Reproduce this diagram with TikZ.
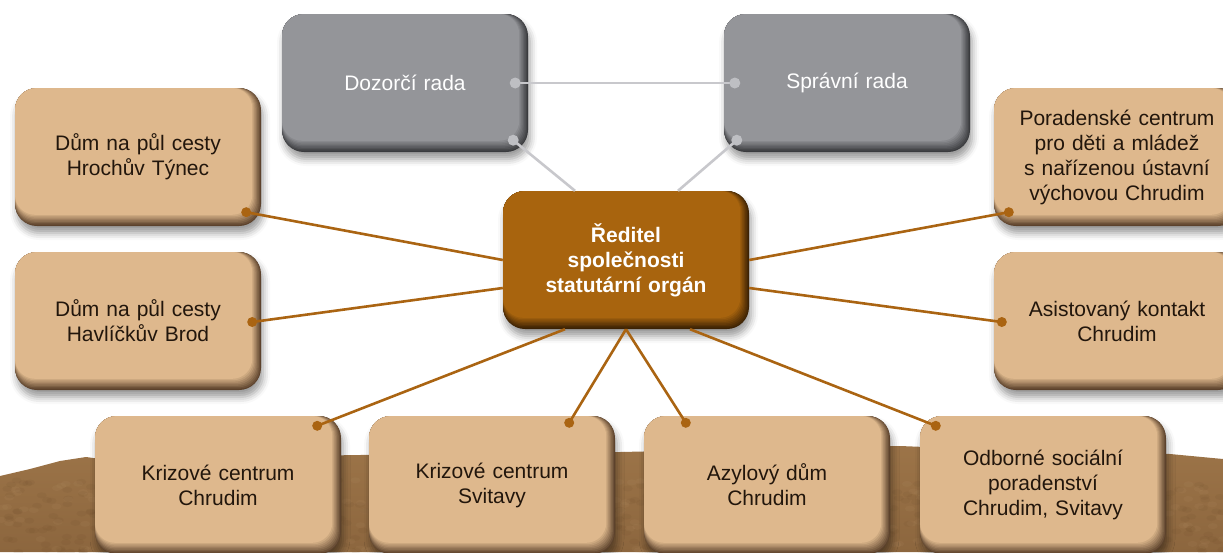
\documentclass[tikz,border=0pt]{standalone}
\usepackage{fontspec}
\setmainfont{Liberation Sans}
\usetikzlibrary{shadows.blur}
\definecolor{tanbase}{RGB}{222,184,141}
\definecolor{tanedge}{RGB}{92,66,44}
\definecolor{tantext}{RGB}{34,22,12}
\definecolor{graybase}{RGB}{148,149,153}
\definecolor{grayedge}{RGB}{58,59,62}
\definecolor{brownbase}{RGB}{168,100,14}
\definecolor{brownedge}{RGB}{60,34,4}
\definecolor{linebrown}{RGB}{170,100,18}
\definecolor{linegray}{RGB}{200,200,204}
\definecolor{dotgray}{RGB}{190,191,195}
\definecolor{sandtop}{RGB}{156,116,72}
\definecolor{sandbot}{RGB}{140,102,62}
\definecolor{sanddark}{RGB}{100,68,36}
\definecolor{sandlight}{RGB}{200,165,120}

\tikzset{bevel/.style 2 args={path picture={
  \foreach \k in {1,...,8}{
    \pgfmathtruncatemacro\mix{\k*100/8}
    \fill[rounded corners=20pt, #1!\mix!#2]
      (path picture bounding box.north west) rectangle
      ([xshift=-\k*1.1pt, yshift=\k*1.4pt]path picture bounding box.south east);
  }}}}
\tikzstyle{box} = [rectangle, rounded corners=22pt, minimum width=246pt,
minimum height=138pt, text width=230pt, align=center, inner sep=0pt,
font=\fontsize{21}{25}\selectfont,
blur shadow={shadow xshift=2pt, shadow yshift=-7pt, shadow blur radius=7pt, shadow opacity=40}]
\tikzstyle{tanbox} = [box, fill=tanedge, bevel={tanbase}{tanedge}, text=tantext]
\tikzstyle{graybox} = [box, fill=grayedge, bevel={graybase}{grayedge}, text=white]
\tikzstyle{brownbox} = [box, fill=brownedge, bevel={brownbase}{brownedge}, text=white,
font=\fontsize{21}{25}\selectfont\bfseries]
\tikzstyle{brownline} = [line width=2.6pt, linebrown]
\tikzstyle{grayline} = [line width=2.6pt, linegray]

\begin{document}
\begin{tikzpicture}[x=1pt, y=-1pt]
\useasboundingbox (0,0) rectangle (1223,552);

% sand at the bottom
\shade[top color=sandtop, bottom color=sandbot] (0,476) -- (30,469) -- (60,461)
-- (86,457) -- (115,461) -- (160,458) -- (360,455) -- (620,452) -- (900,446)
-- (1000,450) -- (1170,454) -- (1223,459) -- (1223,552) -- (0,552) -- cycle;
\pgfmathsetseed{42}
\foreach \i in {1,...,500}{
  \pgfmathsetmacro\sx{rnd*1223}
  \pgfmathsetmacro\sy{480+rnd*72}
  \fill[sanddark, opacity=0.09] (\sx,\sy) ellipse (5pt and 3pt);
}
\foreach \i in {1,...,300}{
  \pgfmathsetmacro\sx{rnd*1223}
  \pgfmathsetmacro\sy{480+rnd*72}
  \fill[sandlight, opacity=0.08] (\sx,\sy) ellipse (5pt and 3pt);
}

\node(dozorci)[graybox] at (405,83) {Dozorčí rada};
\node(spravni)[graybox] at (847,83) {Správní rada};

\node(hrochuv)[tanbox] at (138,157) {Dům na půl cesty\\Hrochův Týnec};
\node(havlickuv)[tanbox] at (138,321) {Dům na půl cesty\\Havlíčkův Brod};
\node(poradenske)[tanbox] at (1117,157) {Poradenské centrum\\pro děti a mládež\\s nařízenou ústavní\\výchovou Chrudim};
\node(asistovany)[tanbox] at (1117,321) {Asistovaný kontakt\\Chrudim};

\node(reditel)[brownbox] at (626,260) {Ředitel\\společnosti\\statutární orgán};

\node(krizovyCh)[tanbox] at (218,485) {Krizové centrum\\Chrudim};
\node(krizovySv)[tanbox] at (492,485) {Krizové centrum\\Svitavy};
\node(azyl)[tanbox] at (767,485) {Azylový dům\\Chrudim};
\node(odborne)[tanbox] at (1043,485) {Odborné sociální\\poradenství\\Chrudim, Svitavy};

% end points on the boxes
\coordinate (dozorciEast) at ([xshift=-13pt]dozorci.east);
\coordinate (dozorciCorner) at ([xshift=-15pt, yshift=12pt]dozorci.south east);
\coordinate (spravniWest) at ([xshift=11pt]spravni.west);
\coordinate (spravniCorner) at ([xshift=13pt, yshift=12pt]spravni.south west);
\coordinate (hrochuvDot) at ([xshift=-15pt, yshift=14pt]hrochuv.south east);
\coordinate (havlickuvDot) at ([xshift=-9pt, yshift=-1pt]havlickuv.east);
\coordinate (poradenskeDot) at ([xshift=15pt, yshift=14pt]poradenske.south west);
\coordinate (asistovanyDot) at ([xshift=8pt, yshift=-1pt]asistovany.west);
\coordinate (krizovyChDot) at ([xshift=-24pt, yshift=-10pt]krizovyCh.north east);
\coordinate (krizovySvDot) at ([xshift=-46pt, yshift=-7pt]krizovySv.north east);
\coordinate (azylDot) at ([xshift=42pt, yshift=-7pt]azyl.north west);
\coordinate (odborneDot) at ([xshift=16pt, yshift=-10pt]odborne.north west);

\draw[grayline](dozorciEast) -- (spravniWest);
\draw[grayline](dozorciCorner) -- ([xshift=-51pt]reditel.north);
\draw[grayline](spravniCorner) -- ([xshift=52pt]reditel.north);

\draw[brownline](hrochuvDot) -- (reditel.west);
\draw[brownline](havlickuvDot) -- ([yshift=-28pt]reditel.west);
\draw[brownline](poradenskeDot) -- (reditel.east);
\draw[brownline](asistovanyDot) -- ([yshift=-28pt]reditel.east);
\draw[brownline](krizovyChDot) -- ([xshift=-61pt]reditel.south);
\draw[brownline](krizovySvDot) -- (reditel.south);
\draw[brownline](azylDot) -- (reditel.south);
\draw[brownline](odborneDot) -- ([xshift=64pt]reditel.south);

\foreach \d in {dozorciEast, dozorciCorner, spravniWest, spravniCorner}
  \fill[dotgray] (\d) circle (5.5pt);
\foreach \d in {hrochuvDot, havlickuvDot, poradenskeDot, asistovanyDot,
  krizovyChDot, krizovySvDot, azylDot, odborneDot}
  \fill[linebrown] (\d) circle (5pt);

\end{tikzpicture}
\end{document}
